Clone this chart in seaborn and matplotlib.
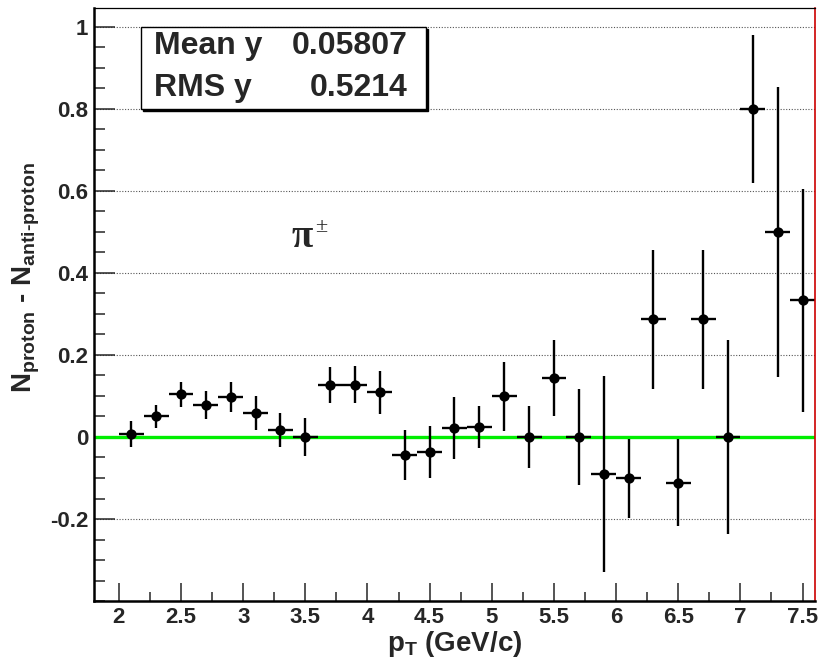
import matplotlib
matplotlib.use("Agg")
import matplotlib.pyplot as plt
from matplotlib.patches import Rectangle
from matplotlib.ticker import FixedLocator, MultipleLocator
import seaborn as sns
import pandas as pd

# ── Data ───────────────────────────────────────────────────────────────────────
pt_centers = [2.1, 2.3, 2.5, 2.7, 2.9, 3.1, 3.3, 3.5, 3.7, 3.9, 4.1, 4.3, 4.5, 4.7,
              4.9, 5.1, 5.3, 5.5, 5.7, 5.9, 6.1, 6.3, 6.5, 6.7, 6.9, 7.1, 7.3, 7.5]
diff = [0.007, 0.051, 0.104, 0.077, 0.098, 0.059, 0.017, 0.0, 0.127, 0.127, 0.109,
        -0.044, -0.036, 0.022, 0.025, 0.099, 0.0, 0.143, 0.0, -0.091, -0.101, 0.287,
        -0.111, 0.287, 0.0, 0.800, 0.500, 0.333]
diff_err = [0.031, 0.028, 0.031, 0.034, 0.036, 0.041, 0.041, 0.046, 0.044, 0.045, 0.053,
            0.060, 0.063, 0.076, 0.051, 0.084, 0.075, 0.093, 0.118, 0.239, 0.096, 0.170,
            0.105, 0.170, 0.236, 0.180, 0.354, 0.272]
bin_half_width = 0.1

x_ticks = [2, 2.5, 3, 3.5, 4, 4.5, 5, 5.5, 6, 6.5, 7, 7.5]
x_tick_labels = ["2", "2.5", "3", "3.5", "4", "4.5", "5", "5.5", "6", "6.5", "7", "7.5"]
y_ticks = [-0.2, 0, 0.2, 0.4, 0.6, 0.8, 1.0]
y_tick_labels = ["-0.2", "0", "0.2", "0.4", "0.6", "0.8", "1"]

stats_names = ["Mean y", "RMS y"]
stats_values = ["0.05807", "0.5214"]

df = pd.DataFrame({"pt": pt_centers, "diff": diff, "err": diff_err})

# ── Style ──────────────────────────────────────────────────────────────────────
sns.set_style("ticks")
plt.rcParams["font.family"] = ["Liberation Sans", "DejaVu Sans"]
plt.rcParams["font.weight"] = "bold"
plt.rcParams["axes.unicode_minus"] = False
plt.rcParams["mathtext.fontset"] = "custom"
plt.rcParams["mathtext.rm"] = "Liberation Sans:bold"
plt.rcParams["mathtext.it"] = "Liberation Sans:bold"
plt.rcParams["mathtext.bf"] = "Liberation Sans:bold"

fig = plt.figure(figsize=(8.2, 6.69), dpi=100)
ax = fig.add_axes([0.1146, 0.1016, 0.8793, 0.8864])

# grid lines (horizontal only)
for yv in y_ticks:
    ax.axhline(yv, color="#555555", lw=0.8, ls=(0, (1, 1.5)), zorder=0)

# zero line
ax.axhline(0, color="#00ee00", lw=2.4, zorder=1)

ax.errorbar(df["pt"], df["diff"], xerr=bin_half_width, yerr=df["err"],
            fmt="none", ecolor="black", elinewidth=1.7, capsize=0, zorder=2)
sns.scatterplot(data=df, x="pt", y="diff", ax=ax, color="black", s=55,
                edgecolor="black", linewidth=0, zorder=3, legend=False)

ax.set_xlim(1.8, 7.6)
ax.set_ylim(-0.4, 1.046)

ax.xaxis.set_major_locator(FixedLocator(x_ticks))
ax.set_xticklabels(x_tick_labels)
ax.xaxis.set_minor_locator(MultipleLocator(0.25))
ax.yaxis.set_major_locator(FixedLocator(y_ticks))
ax.set_yticklabels(y_tick_labels)
ax.yaxis.set_minor_locator(MultipleLocator(0.05))

ax.tick_params(axis="x", which="major", direction="in", length=13, width=1.1,
               labelsize=16, pad=4, top=False)
ax.tick_params(axis="x", which="minor", direction="in", length=6.5, width=1.1, top=False)
ax.tick_params(axis="y", which="major", direction="in", length=15, width=1.1,
               labelsize=16, pad=4, right=False)
ax.tick_params(axis="y", which="minor", direction="in", length=8, width=1.1, right=False)

for side in ["left", "bottom"]:
    ax.spines[side].set_linewidth(1.8)
    ax.spines[side].set_color("black")
ax.spines["top"].set_linewidth(0.9)
ax.spines["top"].set_color("black")
ax.spines["right"].set_linewidth(1.2)
ax.spines["right"].set_color("#cc0000")

ax.set_xlabel(r"$\mathrm{p_{T}}$ (GeV/c)", fontsize=20, fontweight="bold", labelpad=1)
ax.set_ylabel(r"$\mathrm{N_{proton}}$ - $\mathrm{N_{anti\text{-}proton}}$",
              fontsize=20, fontweight="bold", labelpad=6)
ax.yaxis.label.set_y(0.545)

# pi label
ax.text(3.39, 0.463, "π", fontsize=28, family=["Liberation Serif", "DejaVu Serif"],
        fontweight="bold", ha="left", va="baseline")
ax.text(3.58, 0.5, "±", fontsize=16, family=["Liberation Serif", "DejaVu Serif"],
        fontweight="normal", ha="left", va="baseline")

# ── Stats box ──────────────────────────────────────────────────────────────────
bx, by, bw, bh = 141 / 820, 1 - 109 / 669, 285 / 820, 82 / 669
fig.patches.append(Rectangle((bx + 2 / 820, by - 2 / 669), bw, bh,
                             transform=fig.transFigure, facecolor="black",
                             edgecolor="black", zorder=5))
fig.patches.append(Rectangle((bx, by), bw, bh, transform=fig.transFigure,
                             facecolor="white", edgecolor="black", lw=1.0, zorder=6))
row_y = [1 - 46 / 669, 1 - 88 / 669]
for name, val, ry in zip(stats_names, stats_values, row_y):
    fig.text(154 / 820, ry, name, fontsize=23, fontweight="bold", ha="left",
             va="center", zorder=7)
    fig.text(408 / 820, ry, val, fontsize=23, fontweight="bold", ha="right",
             va="center", zorder=7)

plt.savefig("out.png", dpi=100)
plt.close()
